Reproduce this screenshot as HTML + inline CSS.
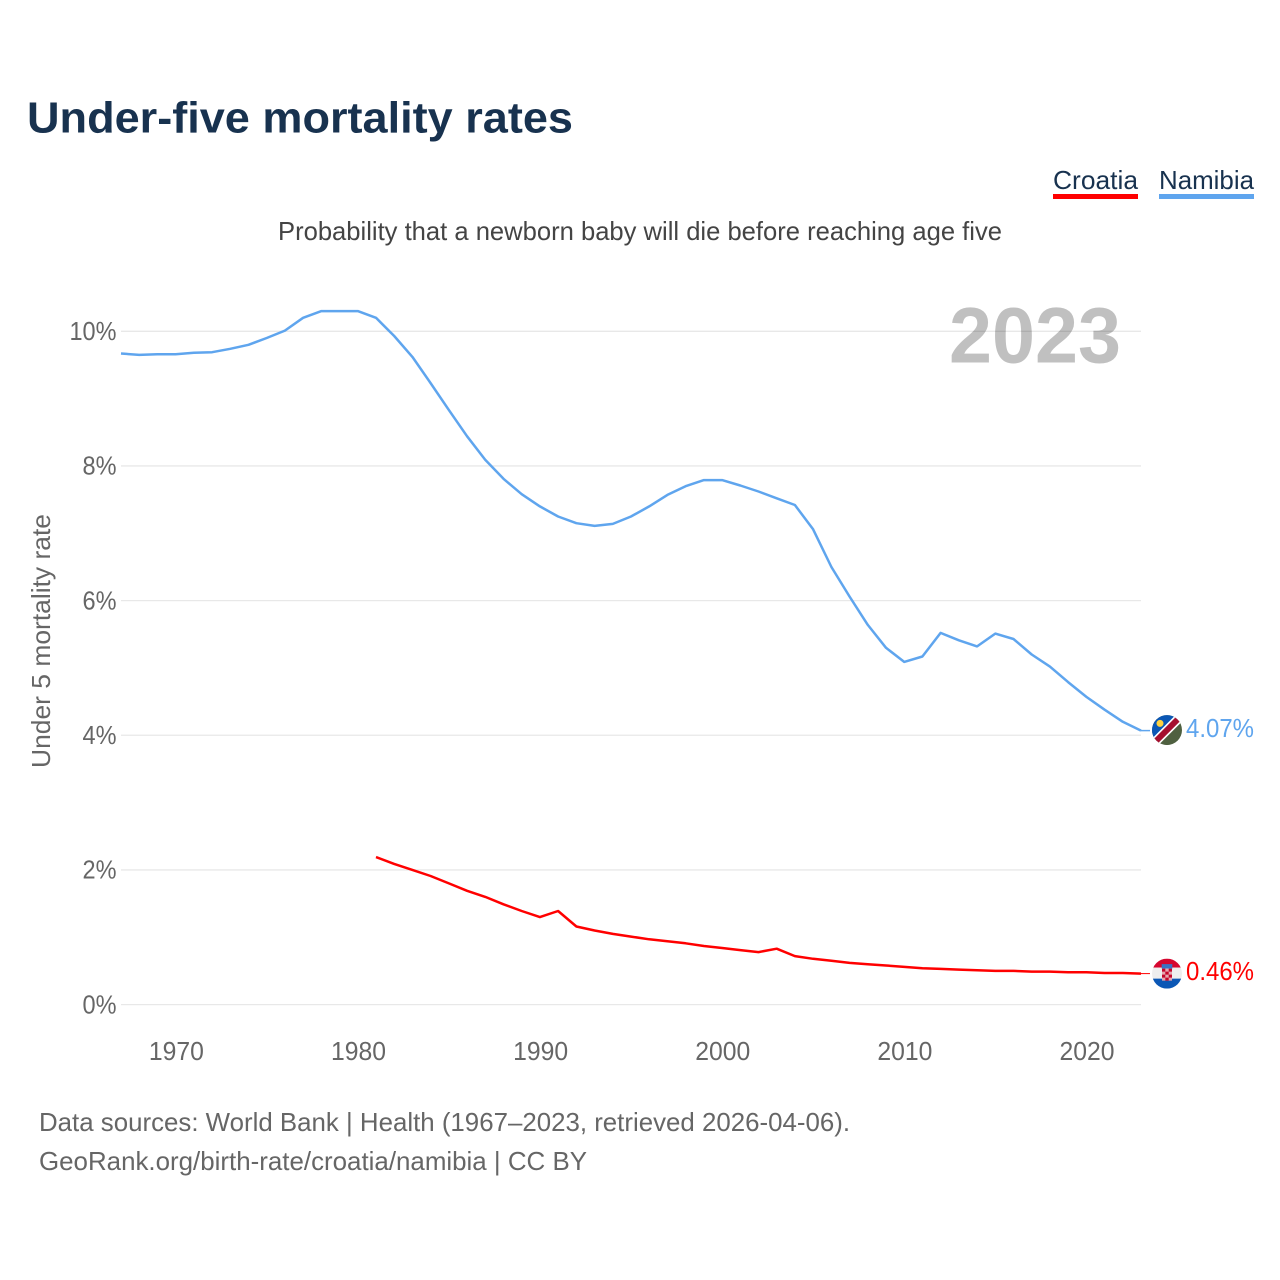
<!DOCTYPE html>
<html lang="en">
<head>
<meta charset="utf-8">
<title>Under-five mortality rates</title>
<style>
html,body{margin:0;padding:0;background:#fff;width:1280px;height:1280px;overflow:hidden}
svg{display:block}
text{font-family:"Liberation Sans",sans-serif}
</style>
</head>
<body>
<svg id="chart" width="1280" height="1280" viewBox="0 0 1280 1280" xmlns="http://www.w3.org/2000/svg">
  <rect width="1280" height="1280" fill="#fff"/>
  <text x="27" y="132.500" font-size="44" font-weight="700" fill="#18324f" textLength="546" lengthAdjust="spacingAndGlyphs">Under-five mortality rates</text>
  <g>
    <text x="1053" y="189" font-size="26" fill="#18324f" textLength="85" lengthAdjust="spacingAndGlyphs">Croatia</text>
    <rect x="1053" y="194" width="85" height="5" fill="#ff0000"/>
  </g>
  <g>
    <text x="1159" y="189" font-size="26" fill="#18324f" textLength="95" lengthAdjust="spacingAndGlyphs">Namibia</text>
    <rect x="1159" y="194" width="95" height="5" fill="#5fa5ee"/>
  </g>
  <text x="278" y="240" font-size="26" fill="#444" textLength="724" lengthAdjust="spacingAndGlyphs">Probability that a newborn baby will die before reaching age five</text>
  <text transform="translate(50,768) rotate(-90)" x="0" y="0" font-size="26" fill="#666" textLength="254" lengthAdjust="spacingAndGlyphs">Under 5 mortality rate</text>
  <text x="949" y="362.500" font-size="79" font-weight="700" fill="#c0c0c0" textLength="172" lengthAdjust="spacingAndGlyphs">2023</text>
  <g id="grid"></g>
  <g id="yticks"></g>
  <g id="xticks"></g>
  <g id="series"></g>
  <g id="flag-namibia">
    <clipPath id="clip-nam"><circle cx="0" cy="0" r="15"/></clipPath>
    <g clip-path="url(#clip-nam)">
      <rect x="-15" y="-15" width="30" height="30" fill="#4f6040"/>
      <polygon points="-20,20 20,-20 -20,-20" fill="#0b57b5"/>
      <polygon points="-20,13.500 13.500,-20 20,-13.500 -13.500,20" fill="#fff"/>
      <polygon points="-20,15.800 15.800,-20 20,-15.800 -15.800,20" fill="#a5102f"/>
      <circle cx="-7" cy="-6.700" r="3.500" fill="#ffd23f"/>
    </g>
  </g>
  <g id="flag-croatia">
    <clipPath id="clip-cro"><circle cx="0" cy="0" r="15"/></clipPath>
    <g clip-path="url(#clip-cro)">
      <rect x="-15" y="-15" width="30" height="9" fill="#d6062f"/>
      <rect x="-15" y="-6" width="30" height="11" fill="#eeeeee"/>
      <rect x="-15" y="5" width="30" height="10" fill="#0b57b5"/>
      <rect x="-5.300" y="-9.500" width="10.600" height="4.500" fill="#3a72c4"/>
      <rect x="-5" y="-5" width="10" height="12" fill="#e6a5ae"/>
      <path d="M-5-5h3.300v3h-3.300zM1.700-5H5v3H1.700zM-1.700-2h3.400v3h-3.400zM-5 1h3.300v3H-5zM1.700 1H5v3H1.700zM-1.700 4h3.400v3h-3.400z" fill="#c4062b"/>
    </g>
  </g>
  <text id="value-namibia" x="1186" font-size="26" fill="#5fa5ee" textLength="68" lengthAdjust="spacingAndGlyphs"></text>
  <text id="value-croatia" x="1186" font-size="26" fill="#ff0000" textLength="68" lengthAdjust="spacingAndGlyphs"></text>
  <text x="39" y="1131" font-size="26" fill="#666" textLength="811" lengthAdjust="spacingAndGlyphs">Data sources: World Bank | Health (1967–2023, retrieved 2026-04-06).</text>
  <text x="39" y="1170" font-size="26" fill="#666" textLength="548" lengthAdjust="spacingAndGlyphs">GeoRank.org/birth-rate/croatia/namibia | CC BY</text>
</svg>
<script>
var namibiaStartYear = 1967;
var croatiaStartYear = 1981;
var namibiaValues = [9.67,9.65,9.66,9.66,9.68,9.69,9.74,9.80,9.90,10.01,10.20,10.30,10.30,10.30,10.20,9.93,9.62,9.23,8.83,8.44,8.09,7.81,7.58,7.40,7.25,7.15,7.11,7.14,7.25,7.40,7.57,7.70,7.79,7.79,7.71,7.62,7.52,7.42,7.06,6.50,6.06,5.64,5.30,5.09,5.17,5.52,5.41,5.32,5.51,5.43,5.20,5.02,4.79,4.57,4.38,4.20,4.07];
var croatiaValues = [2.19,2.09,2.00,1.91,1.80,1.69,1.60,1.49,1.39,1.30,1.39,1.16,1.10,1.05,1.01,0.97,0.94,0.91,0.87,0.84,0.81,0.78,0.83,0.72,0.68,0.65,0.62,0.60,0.58,0.56,0.54,0.53,0.52,0.51,0.50,0.50,0.49,0.49,0.48,0.48,0.47,0.47,0.46];
var yTickValues = [0,2,4,6,8,10];
var xTickYears = [1970,1980,1990,2000,2010,2020];

function xScale(year){ return 121 + (year - 1967) * (1141 - 121) / (2023 - 1967); }
function yScale(v){ return 1004.6 - v * 67.33; }
var NS = 'http://www.w3.org/2000/svg';
function mk(tag, attrs, parent){
  var el = document.createElementNS(NS, tag);
  for (var k in attrs) el.setAttribute(k, attrs[k]);
  parent.appendChild(el);
  return el;
}
var grid = document.getElementById('grid');
var yticks = document.getElementById('yticks');
var xticks = document.getElementById('xticks');
var series = document.getElementById('series');

yTickValues.forEach(function(v){
  var line = mk('line', {x1:121, x2:1141, y1:yScale(v), y2:yScale(v), stroke:'#000', 'stroke-opacity':0.09, 'stroke-width':1.3}, grid);
  
  
  var label = mk('text', {x:116.5, y:yScale(v)+8.7, 'text-anchor':'end', 'font-size':26, fill:'#666', textLength:(v >= 10 ? 47 : 34), lengthAdjust:'spacingAndGlyphs'}, yticks);
  
  
  label.textContent = v + '%';
});
xTickYears.forEach(function(y){
  var label = mk('text', {x:xScale(y)+0.7, y:1060, 'text-anchor':'middle', 'font-size':26, fill:'#666', textLength:55, lengthAdjust:'spacingAndGlyphs'}, xticks);
  
  
  label.textContent = y;
});
function linePath(values, start){
  return values.map(function(v, i){
    return (i ? 'L' : 'M') + xScale(start + i).toFixed(1) + ' ' + yScale(v).toFixed(1);
  }).join(' ');
}
function tailPath(values){
  var y = yScale(values[values.length - 1]).toFixed(1);
  return 'M1141 ' + y + ' L1150 ' + y;
}
var nam = mk('path', {d:linePath(namibiaValues, namibiaStartYear), fill:'none', stroke:'#5fa5ee', 'stroke-width':2.5, 'stroke-linejoin':'round'}, series);


var namTail = mk('path', {d:tailPath(namibiaValues), fill:'none', stroke:'#5fa5ee', 'stroke-width':1.5}, series);


var cro = mk('path', {d:linePath(croatiaValues, croatiaStartYear), fill:'none', stroke:'#ff0000', 'stroke-width':2.5, 'stroke-linejoin':'round'}, series);


var croTail = mk('path', {d:tailPath(croatiaValues), fill:'none', stroke:'#ff0000', 'stroke-width':1}, series);



var namLast = namibiaValues[namibiaValues.length - 1];
var croLast = croatiaValues[croatiaValues.length - 1];
document.getElementById('flag-namibia').setAttribute('transform', 'translate(1167,' + (yScale(namLast) - 0.5) + ')');
document.getElementById('flag-croatia').setAttribute('transform', 'translate(1167,' + yScale(croLast) + ')');
var vn = document.getElementById('value-namibia');
vn.setAttribute('y', yScale(namLast) + 6.4);
vn.textContent = namLast.toFixed(2) + '%';
var vc = document.getElementById('value-croatia');
vc.setAttribute('y', yScale(croLast) + 6.4);
vc.textContent = croLast.toFixed(2) + '%';
</script>
</body>
</html>
